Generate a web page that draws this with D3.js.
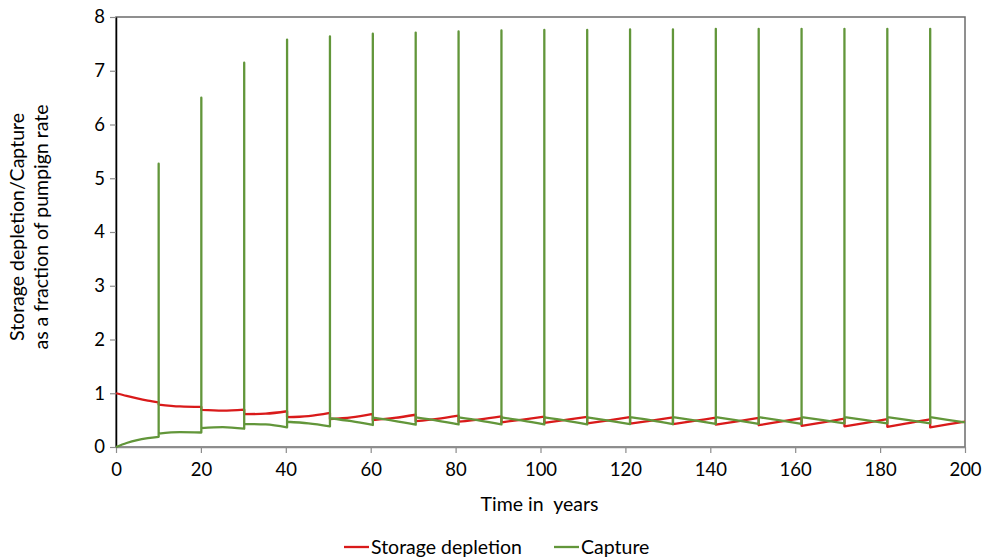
<!DOCTYPE html>
<html>
<head>
<meta charset="utf-8">
<script src="https://cdn.jsdelivr.net/npm/d3@7"></script>
<style>
  html, body { margin: 0; padding: 0; background: #fff; }
  svg text { font-family: Lato, "Open Sans", "Liberation Sans", sans-serif; fill: #000; }
</style>
</head>
<body>
<svg id="chart" width="983" height="557"></svg>
<script>
// Years at which the pumping switches (a capture spike occurs)
const spikeYears = [10.05, 20.1, 30.2, 40.3, 50.4, 60.5, 70.6, 80.7, 90.8, 100.9,
                    111.0, 121.1, 131.2, 141.3, 151.4, 161.5, 171.6, 181.7, 191.8];
// Peak capture reached at each spike
const spikePeaks = [5.27, 6.50, 7.15, 7.58, 7.64, 7.69, 7.71, 7.73, 7.75, 7.76,
                    7.76, 7.77, 7.77, 7.78, 7.78, 7.78, 7.78, 7.78, 7.78];

// First period (0 to first spike), sampled more finely
const firstYears     = [0, 2.5, 5, 7.5];
const firstDepletion = [1.00, 0.95, 0.905, 0.865];
const firstCapture   = [0.00, 0.075, 0.13, 0.165];

// Later periods: value just after the spike, at mid-period, and just before the next spike
const depletionStart = [0.79, 0.69, 0.61, 0.555, 0.52, 0.50, 0.48, 0.47, 0.46, 0.45,
                        0.44, 0.435, 0.425, 0.415, 0.405, 0.395, 0.385, 0.375, 0.365];
const depletionMid   = [0.755, 0.675, 0.62, 0.575, 0.55, 0.54, 0.525, 0.515, 0.51, 0.505,
                        0.495, 0.49, 0.485, 0.475, 0.47, 0.46, 0.45, 0.445, 0.42];
const depletionEnd   = [0.745, 0.695, 0.665, 0.635, 0.615, 0.60, 0.585, 0.57, 0.565, 0.56,
                        0.555, 0.55, 0.545, 0.54, 0.535, 0.53, 0.52, 0.515, 0.47];
const depletionFirstEnd = 0.83;

const captureStart = [0.25, 0.35, 0.43, 0.47, 0.535, 0.545, 0.55, 0.55, 0.55, 0.55,
                      0.55, 0.555, 0.555, 0.555, 0.555, 0.555, 0.555, 0.555, 0.555];
const captureMid   = [0.275, 0.37, 0.42, 0.44, 0.48, 0.485, 0.49, 0.49, 0.49, 0.49,
                      0.49, 0.495, 0.495, 0.495, 0.495, 0.50, 0.50, 0.50, 0.505];
const captureEnd   = [0.27, 0.34, 0.365, 0.385, 0.41, 0.415, 0.42, 0.42, 0.42, 0.42,
                      0.425, 0.425, 0.43, 0.43, 0.43, 0.44, 0.44, 0.44, 0.46];
const captureFirstEnd = 0.19;

const xTicks = [0, 20, 40, 60, 80, 100, 120, 140, 160, 180, 200];
const yTicks = [0, 1, 2, 3, 4, 5, 6, 7, 8];

const seriesNames  = ["Storage depletion", "Capture"];
const seriesColors = ["#d91a1a", "#62963a"];

const svg = d3.select("#chart");
const plot = { left: 116, right: 965, top: 17, bottom: 447 };

const x = d3.scaleLinear().domain([0, 200]).range([plot.left, plot.right]);
const y = d3.scaleLinear().domain([0, 8]).range([plot.bottom, plot.top]);

// Plot frame
svg.append("rect")
  .attr("x", plot.left).attr("y", plot.top)
  .attr("width", plot.right - plot.left).attr("height", plot.bottom - plot.top)
  .attr("fill", "none").attr("stroke", "#6b6b6b").attr("stroke-width", 1.5);

// Axes
const xAxis = svg.append("g")
  .attr("transform", `translate(0,${plot.bottom})`)
  .call(d3.axisBottom(x).tickValues(xTicks).tickSize(6).tickSizeOuter(0).tickPadding(10));
xAxis.select(".domain").attr("stroke", "#8c8c8c").attr("stroke-width", 1.5);
xAxis.selectAll(".tick line").attr("stroke", "#8c8c8c").attr("stroke-width", 1.2);
xAxis.selectAll(".tick text").style("font-size", "18.5px");

const yAxis = svg.append("g")
  .attr("transform", `translate(${plot.left},0)`)
  .call(d3.axisLeft(y).tickValues(yTicks).tickSize(6).tickSizeOuter(0).tickPadding(5));
yAxis.select(".domain").attr("stroke", "#000").attr("stroke-width", 1.5);
yAxis.selectAll(".tick line").attr("stroke", "#8c8c8c").attr("stroke-width", 1.2);
yAxis.selectAll(".tick text").style("font-size", "18.5px");

// Build period segments
const depletionSegs = [];
const captureSegs = [];
depletionSegs.push(firstYears.map((t, i) => [t, firstDepletion[i]]).concat([[spikeYears[0], depletionFirstEnd]]));
captureSegs.push(firstYears.map((t, i) => [t, firstCapture[i]]).concat([[spikeYears[0], captureFirstEnd]]));
for (let k = 0; k < spikeYears.length; k++) {
  const t0 = spikeYears[k];
  const t1 = k + 1 < spikeYears.length ? spikeYears[k + 1] : 200;
  const tm = (t0 + t1) / 2;
  depletionSegs.push([[t0, depletionStart[k]], [tm, depletionMid[k]], [t1, depletionEnd[k]]]);
  captureSegs.push([[t0, captureStart[k]], [tm, captureMid[k]], [t1, captureEnd[k]]]);
}

const segLine = d3.line().x(d => x(d[0])).y(d => y(d[1])).curve(d3.curveMonotoneX);

function joinSegments(segs, peaks) {
  let d = "";
  segs.forEach((seg, i) => {
    const p = segLine(seg);
    if (i === 0) { d += p; return; }
    if (peaks) d += `L${x(spikeYears[i - 1])},${y(peaks[i - 1])}`;
    d += p.replace(/^M/, "L");
  });
  return d;
}

svg.append("path")
  .attr("d", joinSegments(depletionSegs, null))
  .attr("fill", "none").attr("stroke", seriesColors[0])
  .attr("stroke-width", 2.3).attr("stroke-linejoin", "round");

svg.append("path")
  .attr("d", joinSegments(captureSegs, spikePeaks))
  .attr("fill", "none").attr("stroke", seriesColors[1])
  .attr("stroke-width", 2.3).attr("stroke-linejoin", "round");

// Axis titles
svg.append("text")
  .attr("x", (plot.left + plot.right) / 2 - 1).attr("y", 511)
  .attr("text-anchor", "middle").style("font-size", "19.5px")
  .style("white-space", "pre")
  .text("Time in  years");

const yTitle = svg.append("text")
  .attr("transform", "translate(24,227) rotate(-90)")
  .attr("text-anchor", "middle").style("font-size", "19.5px");
yTitle.append("tspan").attr("x", 0).attr("dy", 0).text("Storage depletion/Capture");
yTitle.append("tspan").attr("x", 0).attr("dy", 24).text("as a fraction of pumpign rate");

// Legend
const legend = svg.append("g").attr("transform", "translate(344,547)");
const legendItems = legend.selectAll("g").data(seriesNames).join("g")
  .attr("transform", (d, i) => `translate(${i === 0 ? 0 : 210},0)`);
legendItems.append("line")
  .attr("x1", 0).attr("x2", 25).attr("y1", 0).attr("y2", 0)
  .attr("stroke", (d, i) => seriesColors[i]).attr("stroke-width", 2.3);
legendItems.append("text")
  .attr("x", 27).attr("y", 7).style("font-size", "19.5px")
  .text(d => d);
</script>
</body>
</html>
